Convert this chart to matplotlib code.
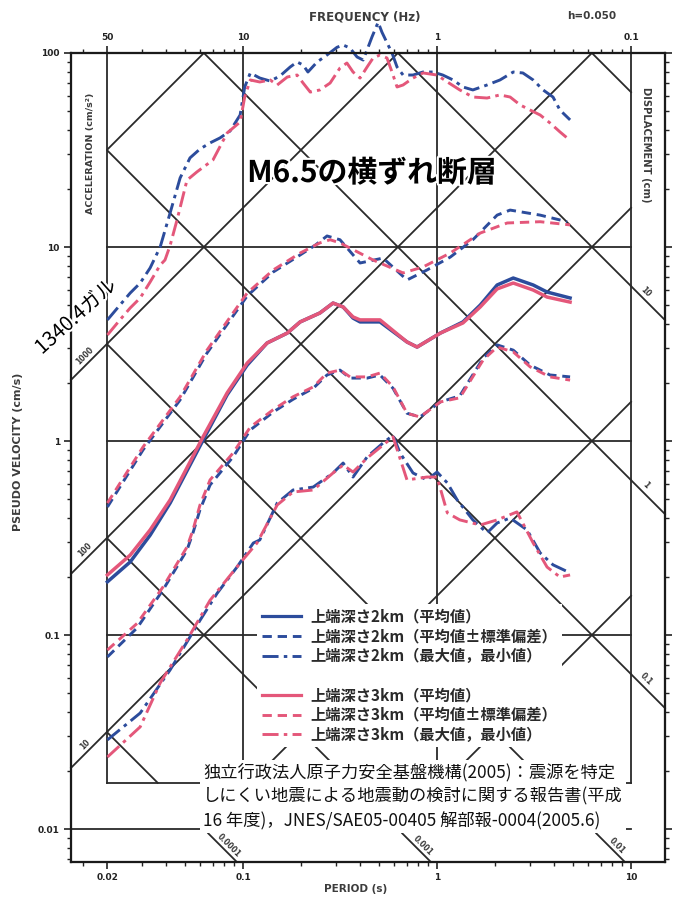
import numpy as np
import matplotlib
matplotlib.use('Agg')
import matplotlib.pyplot as plt
from matplotlib.lines import Line2D
from matplotlib.ticker import NullFormatter
import matplotlib.patheffects as pe

plt.rcParams['font.family'] = ['Noto Sans CJK JP', 'DejaVu Sans']

# ---------------- data (period s, pseudo velocity cm/s) ----------------
T_max_2km = [0.020, 0.0232, 0.0262, 0.0295, 0.0332, 0.0374, 0.0421, 0.0474, 0.0533, 0.0600,
             0.0676, 0.0761, 0.0857, 0.0966, 0.102, 0.109, 0.122, 0.138, 0.155, 0.175,
             0.190, 0.204, 0.216, 0.241, 0.271, 0.305, 0.328, 0.356, 0.387, 0.416,
             0.441, 0.462, 0.497, 0.520, 0.552, 0.586, 0.622, 0.668, 0.752, 0.847,
             0.953, 1.07, 1.21, 1.36, 1.53, 1.81, 2.11, 2.47, 2.77, 3.13,
             3.52, 3.96, 4.30, 4.85]
PV_max_2km = [4.21, 5.02, 5.79, 6.52, 7.80, 10.0, 15.0, 22.7, 28.8, 32.0,
              34.4, 36.5, 39.6, 47.9, 66.8, 78.9, 74.3, 71.7, 76.1, 84.7,
              89.9, 86.7, 79.8, 89.9, 97.7, 107, 110, 106, 95.4, 92.0,
              107, 121, 144, 128, 113, 100, 84.7, 77.0, 77.0, 79.8,
              79.8, 77.0, 72.6, 66.8, 64.5, 68.4, 72.6, 79.8, 78.9, 72.6,
              64.5, 59.3, 50.8, 45.2]

T_max_3km = [0.020, 0.0232, 0.0262, 0.0295, 0.0332, 0.0374, 0.0396, 0.0421, 0.0457, 0.0514,
             0.0579, 0.0700, 0.0828, 0.0966, 0.102, 0.109, 0.122, 0.138, 0.150, 0.169,
             0.190, 0.204, 0.222, 0.249, 0.281, 0.316, 0.343, 0.369, 0.401, 0.436,
             0.468, 0.508, 0.552, 0.586, 0.622, 0.668, 0.752, 0.847, 1.00, 1.13,
             1.31, 1.53, 1.81, 2.11, 2.38, 2.68, 3.02, 3.40, 3.82, 4.30, 4.68]
PV_max_3km = [3.52, 4.21, 4.85, 5.46, 6.60, 8.07, 8.57, 10.2, 13.8, 22.1,
              24.4, 28.1, 38.7, 44.1, 59.3, 72.6, 70.9, 72.6, 68.4, 75.2,
              77.0, 70.0, 62.9, 64.5, 70.0, 83.7, 88.8, 79.8, 74.3, 84.7,
              94.2, 97.7, 94.2, 79.8, 66.8, 68.4, 74.3, 78.9, 77.0, 70.9,
              64.5, 59.3, 58.6, 60.8, 59.3, 54.0, 50.8, 47.9, 43.6, 39.2, 36.5]

T_up_2km = [0.020, 0.0305, 0.0474, 0.0652, 0.0888, 0.105, 0.143, 0.197, 0.235, 0.271,
            0.316, 0.401, 0.527, 0.700, 0.887, 1.17, 1.53, 2.04, 2.38, 3.40, 4.68]
PV_up_2km = [0.457, 0.899, 1.63, 2.84, 4.41, 5.59, 7.43, 9.10, 10.2, 11.4,
             10.9, 8.27, 8.77, 6.76, 7.61, 8.87, 10.9, 14.6, 15.5, 14.6, 13.5]

T_up_3km = [0.020, 0.0305, 0.0474, 0.0652, 0.0888, 0.105, 0.143, 0.197, 0.249, 0.281,
            0.316, 0.468, 0.668, 0.847, 1.17, 1.67, 2.30, 3.40, 4.85]
PV_up_3km = [0.479, 0.931, 1.69, 2.94, 4.57, 5.79, 7.61, 9.31, 10.5, 10.9,
             10.5, 8.57, 7.35, 7.89, 9.31, 11.8, 13.3, 13.5, 13.0]

T_mean = [0.020, 0.0262, 0.0332, 0.0421, 0.0533, 0.0622, 0.0828, 0.105, 0.133, 0.169,
          0.197, 0.249, 0.291, 0.328, 0.369, 0.401, 0.508, 0.700, 0.789, 1.04,
          1.36, 1.67, 2.04, 2.47, 3.13, 3.69, 4.85]
PV_mean_2km = [0.188, 0.238, 0.327, 0.479, 0.752, 1.01, 1.73, 2.46, 3.20, 3.60,
               4.11, 4.57, 5.14, 4.91, 4.30, 4.11, 4.11, 3.24, 3.05, 3.60,
               4.11, 5.02, 6.37, 6.92, 6.37, 5.86, 5.46]
PV_mean_3km = [0.204, 0.258, 0.348, 0.497, 0.780, 1.05, 1.77, 2.52, 3.20, 3.60,
               4.11, 4.57, 5.14, 4.91, 4.36, 4.21, 4.21, 3.24, 3.05, 3.60,
               4.06, 4.91, 6.08, 6.52, 6.00, 5.52, 5.20]

T_low = [0.020, 0.0285, 0.0387, 0.0514, 0.0552, 0.0600, 0.0676, 0.0888, 0.109, 0.143,
         0.181, 0.230, 0.271, 0.316, 0.356, 0.436, 0.508, 0.593, 0.700, 0.817,
         1.04, 1.31, 1.73, 2.04, 2.47, 3.02, 3.82, 4.85]
PV_low_2km = [0.0771, 0.109, 0.171, 0.274, 0.336, 0.442, 0.593, 0.828, 1.14, 1.41,
              1.64, 1.87, 2.19, 2.32, 2.11, 2.11, 2.19, 1.87, 1.39, 1.33,
              1.59, 1.71, 2.68, 3.13, 2.94, 2.46, 2.19, 2.14]
PV_low_3km = [0.0837, 0.115, 0.177, 0.284, 0.348, 0.468, 0.630, 0.867, 1.18, 1.45,
              1.69, 1.90, 2.24, 2.32, 2.14, 2.14, 2.24, 1.90, 1.39, 1.33,
              1.59, 1.67, 2.62, 3.05, 2.88, 2.41, 2.14, 2.06]

T_min_2km = [0.020, 0.0295, 0.0421, 0.0600, 0.0735, 0.0931, 0.113, 0.122, 0.150, 0.181,
             0.230, 0.291, 0.328, 0.369, 0.436, 0.527, 0.593, 0.645, 0.752, 0.887,
             1.00, 1.13, 1.27, 1.53, 1.81, 2.04, 2.38, 2.91, 3.40, 3.96, 4.85]
PV_min_2km = [0.0288, 0.0396, 0.0661, 0.119, 0.164, 0.224, 0.298, 0.309, 0.479, 0.559,
              0.579, 0.684, 0.770, 0.652, 0.828, 0.977, 1.07, 0.867, 0.684, 0.630,
              0.692, 0.608, 0.497, 0.392, 0.336, 0.378, 0.401, 0.348, 0.265, 0.230, 0.209]

T_min_3km = [0.020, 0.0295, 0.0374, 0.0514, 0.0676, 0.0966, 0.118, 0.150, 0.181, 0.230,
             0.291, 0.328, 0.369, 0.436, 0.527, 0.593, 0.700, 0.887, 1.00, 1.13,
             1.31, 1.67, 2.04, 2.58, 3.13, 3.69, 4.30, 4.85]
PV_min_3km = [0.0235, 0.0336, 0.0566, 0.0942, 0.151, 0.235, 0.298, 0.468, 0.546, 0.559,
              0.684, 0.752, 0.692, 0.817, 0.953, 1.05, 0.630, 0.652, 0.652, 0.426,
              0.392, 0.369, 0.392, 0.431, 0.298, 0.224, 0.199, 0.204]

# tripartite grid values
PERIOD_MAJOR = [0.02, 0.1, 1, 10]
PERIOD_LABELS = ['0.02', '0.1', '1', '10']
FREQ_LABELS = ['50', '10', '1', '0.1']
PV_MAJOR = [0.01, 0.1, 1, 10, 100]
PV_LABELS = ['0.01', '0.1', '1', '10', '100']
SA_LINES = [1e4, 1e3, 1e2, 1e1, 1e0, 1e-1]          # cm/s^2
SD_LINES = [100, 10, 1, 0.1, 0.01, 0.001, 0.0001]   # cm
SA_LEFT_LABELED = [1000, 100, 10]
SA_LEFT_TEXT = ['1000', '100', '10']
SD_RIGHT_LABELED = [10, 1, 0.1]
SD_RIGHT_TEXT = ['10', '1', '0.1']
SD_BOTTOM_LABELED = [0.01, 0.001, 0.0001]
SD_BOTTOM_TEXT = ['0.01', '0.001', '0.0001']

LEGEND_LABELS = ['上端深さ2km（平均値）', '上端深さ2km（平均値±標準偏差）', '上端深さ2km（最大値，最小値）',
                 '上端深さ3km（平均値）', '上端深さ3km（平均値±標準偏差）', '上端深さ3km（最大値，最小値）']

# ---------------- figure ----------------
T_MIN, T_MAX = 0.01298, 14.96
PV_MIN, PV_MAX = 0.00676, 100.0
PV_BOX = 0.0173
TWO_PI = 2 * np.pi

fig = plt.figure(figsize=(6.81, 9.02), dpi=100)
ax = fig.add_axes([71 / 681, 40 / 902, 594 / 681, 809 / 902])
ax.set_xscale('log')
ax.set_yscale('log')
ax.set_xlim(T_MIN, T_MAX)
ax.set_ylim(PV_MIN, PV_MAX)

GC = '#2a2a2a'
GLW = 1.3

# vertical / horizontal grid of inner box
for t in PERIOD_MAJOR:
    ax.plot([t, t], [PV_BOX, PV_MAX], color=GC, lw=GLW, zorder=1)
for pv in [0.1, 1, 10]:
    ax.plot([0.02, 10], [pv, pv], color=GC, lw=GLW, zorder=1)
ax.plot([T_MIN, 10], [0.01, 0.01], color=GC, lw=GLW, zorder=1)
ax.plot([0.02, 10], [PV_BOX, PV_BOX], color=GC, lw=GLW, zorder=1)

# diagonal lines
for sa in SA_LINES:
    t_lo = max(0.02, TWO_PI * PV_BOX / sa)
    t_hi = min(10, TWO_PI * PV_MAX / sa)
    if t_lo < t_hi:
        t = np.array([t_lo, t_hi])
        ax.plot(t, sa * t / TWO_PI, color=GC, lw=GLW, zorder=1)
for sd in SD_LINES:
    t_lo = max(0.02, TWO_PI * sd / PV_MAX)
    t_hi = min(10, TWO_PI * sd / PV_BOX)
    if t_lo < t_hi:
        t = np.array([t_lo, t_hi])
        ax.plot(t, TWO_PI * sd / t, color=GC, lw=GLW, zorder=1)

lab_kw = dict(fontsize=5.5, fontweight='bold', color='#3a3a3a', family='DejaVu Sans',
              ha='center', va='center', textcoords='offset points')
for sa, s in zip(SA_LEFT_LABELED, SA_LEFT_TEXT):
    t = np.array([T_MIN, 0.02])
    ax.plot(t, sa * t / TWO_PI, color=GC, lw=GLW, zorder=1, clip_on=False)
    tm = np.sqrt(T_MIN * 0.02)
    ax.annotate(s, (tm, sa * tm / TWO_PI), xytext=(-3, 4), rotation=45, **lab_kw)
for sd, s in zip(SD_RIGHT_LABELED, SD_RIGHT_TEXT):
    t = np.array([10, T_MAX])
    ax.plot(t, TWO_PI * sd / t, color=GC, lw=GLW, zorder=1, clip_on=False)
    tm = np.sqrt(10 * T_MAX) * 0.93
    ax.annotate(s, (tm, TWO_PI * sd / tm), xytext=(3, 4), rotation=-45, **lab_kw)
for sd, s in zip(SD_BOTTOM_LABELED, SD_BOTTOM_TEXT):
    pv = np.array([0.0095, PV_MIN])
    ax.plot(TWO_PI * sd / pv, pv, color=GC, lw=GLW, zorder=1, clip_on=False)
    pm = 0.0078
    ax.annotate(s, (TWO_PI * sd / pm, pm), xytext=(3, 3), rotation=-45, **lab_kw)

# ---------------- curves ----------------
BLUE = '#2c4c9c'
RED = '#e4577a'
LW = 2.1
DASH = (3.2, 2.0)
DASHDOT = (5.5, 1.8, 1.2, 1.8)

def draw(T, PV, color, style, lw=LW, z=3):
    line, = ax.plot(T, PV, color=color, lw=lw, zorder=z, clip_on=False)
    if style == 'dash':
        line.set_dashes(DASH)
    elif style == 'dashdot':
        line.set_dashes(DASHDOT)
    return line

draw(T_max_2km, PV_max_2km, BLUE, 'dashdot')
draw(T_min_2km, PV_min_2km, BLUE, 'dashdot')
draw(T_up_2km, PV_up_2km, BLUE, 'dash')
draw(T_low, PV_low_2km, BLUE, 'dash')
draw(T_mean, PV_mean_2km, BLUE, 'solid', lw=2.5)
draw(T_max_3km, PV_max_3km, RED, 'dashdot', z=4)
draw(T_min_3km, PV_min_3km, RED, 'dashdot', z=4)
draw(T_up_3km, PV_up_3km, RED, 'dash', z=4)
draw(T_low, PV_low_3km, RED, 'dash', z=4)
draw(T_mean, PV_mean_3km, RED, 'solid', lw=2.5, z=4)

# ---------------- ticks and frame ----------------
tick_font = dict(fontsize=6.5, fontweight='bold', color='#3a3a3a', family='DejaVu Sans')
minor_T = [m * d for d in (0.01, 0.1, 1) for m in range(2, 10) if 0.02 < m * d < 10] + \
          [0.015]
minor_PV = [m * d for d in (0.001, 0.01, 0.1, 1, 10) for m in range(2, 10)
            if PV_MIN < m * d < PV_MAX]

ax.set_xticks(PERIOD_MAJOR)
ax.set_xticklabels(PERIOD_LABELS, **tick_font)
ax.set_xticks(minor_T, minor=True)
ax.xaxis.set_minor_formatter(NullFormatter())
ax.set_yticks(PV_MAJOR)
ax.set_yticklabels(PV_LABELS, **tick_font)
ax.set_yticks(minor_PV, minor=True)
ax.yaxis.set_minor_formatter(NullFormatter())
ax.tick_params(which='major', direction='out', length=5, width=1.2, pad=3, colors='#222222')
ax.tick_params(which='minor', direction='out', length=3, width=1.0, colors='#222222')
for sp in ax.spines.values():
    sp.set_linewidth(1.5)
    sp.set_color('#1a1a1a')

axt = ax.twiny()
axt.set_xscale('log')
axt.set_xlim(T_MIN, T_MAX)
axt.set_xticks(PERIOD_MAJOR)
axt.set_xticklabels(FREQ_LABELS, **tick_font)
axt.set_xticks(minor_T, minor=True)
axt.xaxis.set_minor_formatter(NullFormatter())
axt.tick_params(which='major', direction='out', length=5, width=1.2, pad=3, colors='#222222')
axt.tick_params(which='minor', direction='out', length=3, width=1.0, colors='#222222')

axr = ax.twinx()
axr.set_yscale('log')
axr.set_ylim(PV_MIN, PV_MAX)
axr.set_yticks(PV_MAJOR)
axr.set_yticklabels([])
axr.set_yticks(minor_PV, minor=True)
axr.yaxis.set_minor_formatter(NullFormatter())
axr.tick_params(which='major', direction='out', length=5, width=1.2, colors='#222222')
axr.tick_params(which='minor', direction='out', length=3, width=1.0, colors='#222222')
for a in (axt, axr):
    for sp in a.spines.values():
        sp.set_linewidth(1.5)
        sp.set_color('#1a1a1a')

# ---------------- axis titles ----------------
lbl = dict(fontweight='bold', color='#3c3c3c', family='DejaVu Sans', ha='center', va='center')
fig.text(18 / 681, 1 - 452 / 902, 'PSEUDO VELOCITY (cm/s)', rotation=90, fontsize=8, **lbl)
fig.text(356 / 681, 1 - 889 / 902, 'PERIOD (s)', fontsize=7.5, **lbl)
fig.text(365 / 681, 1 - 17 / 902, 'FREQUENCY (Hz)', fontsize=8.5, **lbl)
fig.text(592 / 681, 1 - 16 / 902, 'h=0.050', fontsize=7.5, **lbl)
fig.text(90 / 681, 1 - 153 / 902, 'ACCELERATION (cm/s²)', rotation=90, fontsize=6.8, **lbl)
fig.text(646 / 681, 1 - 145 / 902, 'DISPLACEMENT (cm)', rotation=270, fontsize=7.2, **lbl)

halo = [pe.withStroke(linewidth=3, foreground='white')]
fig.text(372 / 681, 1 - 173 / 902, 'M6.5の横ずれ断層', fontsize=21.5, fontweight='bold',
         ha='center', va='center', color='black', path_effects=halo, zorder=10)
fig.text(76 / 681, 1 - 317 / 902, '1340.4ガル', fontsize=14.5, rotation=42,
         ha='center', va='center', color='black', path_effects=halo, zorder=10)

# ---------------- legend ----------------
handles = []
for color in (BLUE, RED):
    h1 = Line2D([], [], color=color, lw=2.3)
    h2 = Line2D([], [], color=color, lw=2.1, dashes=DASH)
    h3 = Line2D([], [], color=color, lw=2.1, dashes=DASHDOT)
    handles += [h1, h2, h3]
blank = Line2D([], [], color='none')
leg_handles = handles[:3] + [blank] + handles[3:]
leg_labels = LEGEND_LABELS[:3] + [' '] + LEGEND_LABELS[3:]
leg = fig.legend(leg_handles, leg_labels, loc='upper left',
                 bbox_to_anchor=(257 / 681, 1 - 604 / 902), frameon=True,
                 facecolor='white', edgecolor='none', framealpha=1, fancybox=False,
                 borderpad=0.3, borderaxespad=0, handlelength=2.6, handletextpad=0.6,
                 labelspacing=0.24, prop={'size': 11, 'weight': 'bold'})
for txt in leg.get_texts():
    txt.set_color('#2a2a2a')

# ---------------- citation ----------------
cite = ('独立行政法人原子力安全基盤機構(2005)：震源を特定\n'
        'しにくい地震による地震動の検討に関する報告書(平成\n'
        '16 年度)，JNES/SAE05-00405 解部報-0004(2005.6)')
fig.text(203 / 681, 1 - 763 / 902, cite, fontsize=12.4, ha='left', va='top',
         linespacing=1.42, color='#111111', zorder=20,
         bbox=dict(facecolor='white', edgecolor='none', pad=2))

fig.savefig('out.png', dpi=100)
